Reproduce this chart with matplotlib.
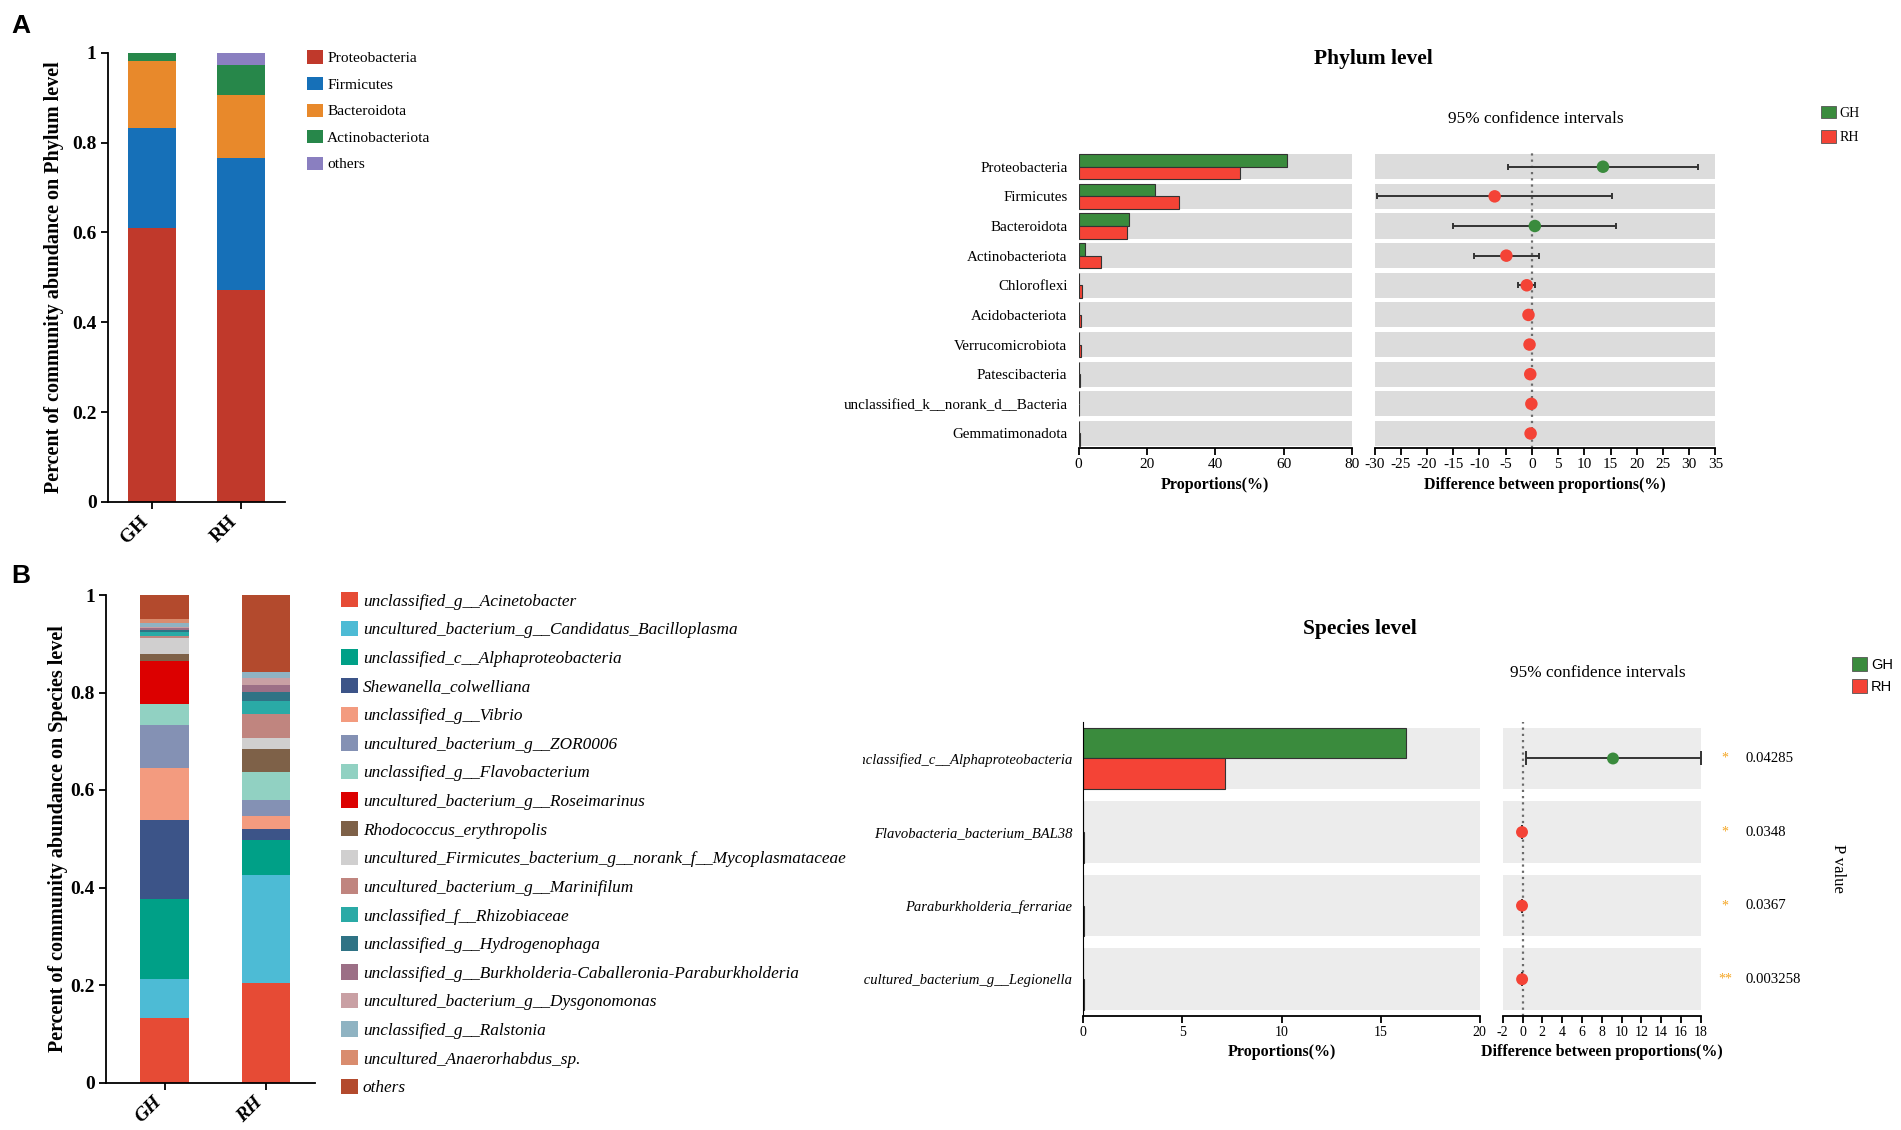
import matplotlib
matplotlib.use("Agg")
import matplotlib.pyplot as plt
import numpy as np
from matplotlib.patches import Patch
from matplotlib.transforms import Bbox, TransformedBbox

W, H = 1901, 1130
plt.rcParams["font.family"] = ["Liberation Serif", "DejaVu Serif"]
plt.rcParams["axes.unicode_minus"] = False

############# data ##########################################################

groups = ["GH", "RH"]

# community barplot, phylum level
phyla = ["Proteobacteria", "Firmicutes", "Bacteroidota", "Actinobacteriota", "others"]
phylum_gh = [0.609, 0.224, 0.148, 0.019, 0.0]
phylum_rh = [0.472, 0.294, 0.141, 0.065, 0.028]
phylum_colors = ["#c0392b", "#1670b8", "#e8892b", "#27874a", "#8a7fc0"]

# community barplot, species level
species = [
    "unclassified_g__Acinetobacter",
    "uncultured_bacterium_g__Candidatus_Bacilloplasma",
    "unclassified_c__Alphaproteobacteria",
    "Shewanella_colwelliana",
    "unclassified_g__Vibrio",
    "uncultured_bacterium_g__ZOR0006",
    "unclassified_g__Flavobacterium",
    "uncultured_bacterium_g__Roseimarinus",
    "Rhodococcus_erythropolis",
    "uncultured_Firmicutes_bacterium_g__norank_f__Mycoplasmataceae",
    "uncultured_bacterium_g__Marinifilum",
    "unclassified_f__Rhizobiaceae",
    "unclassified_g__Hydrogenophaga",
    "unclassified_g__Burkholderia-Caballeronia-Paraburkholderia",
    "uncultured_bacterium_g__Dysgonomonas",
    "unclassified_g__Ralstonia",
    "uncultured_Anaerorhabdus_sp.",
    "others",
]
species_gh = [0.133, 0.079, 0.164, 0.162, 0.108, 0.087, 0.043, 0.088, 0.014,
              0.034, 0.003, 0.010, 0.003, 0.004, 0.003, 0.008, 0.008, 0.049]
species_rh = [0.205, 0.220, 0.072, 0.022, 0.027, 0.034, 0.057, 0.0, 0.047,
              0.022, 0.049, 0.028, 0.017, 0.016, 0.014, 0.012, 0.0, 0.159]
species_colors = ["#e64b35", "#4dbbd5", "#00a087", "#3c5488", "#f39b7f",
                  "#8491b4", "#91d1c2", "#dc0000", "#7e6148", "#d0cfcf",
                  "#c0857f", "#2aaaa6", "#2f7385", "#9c6f86", "#c9a0a4",
                  "#8fb3c2", "#d98c6e", "#b34a2d"]

# STAMP test, phylum level
phylum_test = ["Proteobacteria", "Firmicutes", "Bacteroidota", "Actinobacteriota",
               "Chloroflexi", "Acidobacteriota", "Verrucomicrobiota",
               "Patescibacteria", "unclassified_k__norank_d__Bacteria",
               "Gemmatimonadota"]
phylum_prop_gh = [60.9, 22.5, 14.8, 1.8, 0.15, 0.1, 0.15, 0.1, 0.1, 0.05]
phylum_prop_rh = [47.3, 29.5, 14.3, 6.7, 1.1, 0.75, 0.6, 0.4, 0.2, 0.3]
phylum_diff = [13.56, -7.1, 0.56, -4.87, -0.98, -0.65, -0.45, -0.31, -0.1, -0.25]
phylum_ci_low = [-4.54, -29.46, -15.06, -11.04, -2.66, -0.9, -0.6, -0.4, -0.15, -0.35]
phylum_ci_high = [31.65, 15.23, 16.04, 1.36, 0.62, -0.4, -0.3, -0.2, -0.05, -0.15]

# STAMP test, species level
species_test = ["unclassified_c__Alphaproteobacteria", "Flavobacteria_bacterium_BAL38",
                "Paraburkholderia_ferrariae", "uncultured_bacterium_g__Legionella"]
species_prop_gh = [16.3, 0.0, 0.0, 0.0]
species_prop_rh = [7.15, 0.04, 0.03, 0.03]
species_diff = [9.14, -0.05, -0.05, -0.04]
species_ci_low = [0.36, -0.09, -0.09, -0.07]
species_ci_high = [18.0, -0.01, -0.01, -0.01]
p_values = ["0.04285", "0.0348", "0.0367", "0.003258"]
p_stars = ["*", "*", "*", "**"]

GREEN = "#3a8b3d"
RED = "#f44336"

fig = plt.figure(figsize=(W / 100, H / 100), dpi=100)


def add_axes_px(left, top, right, bottom):
    return fig.add_axes([left / W, 1 - bottom / H, (right - left) / W, (bottom - top) / H])


def fig_xy(x, y):
    return x / W, 1 - y / H


############# stacked community barplots ####################################

def community_plot(ax, gh, rh, colors, labels, width, xlim, ylabel, italic, labelpad):
    x = np.arange(len(groups))
    vals = np.array([gh, rh])
    bottoms = np.zeros(len(groups))
    for i, (lab, col) in enumerate(zip(labels, colors)):
        ax.bar(x, vals[:, i], width, bottom=bottoms, color=col, label=lab, linewidth=0)
        bottoms += vals[:, i]
    ax.set_xlim(*xlim)
    ax.set_ylim(0, 1)
    ax.spines[["top", "right"]].set_visible(False)
    ax.spines[["left", "bottom"]].set_linewidth(1.3)
    ax.set_yticks([0, 0.2, 0.4, 0.6, 0.8, 1.0])
    ax.set_yticklabels(["0", "0.2", "0.4", "0.6", "0.8", "1"], fontsize=14, fontweight="bold")
    ax.set_xticks(x)
    ax.set_xticklabels(groups, rotation=45, ha="right", fontsize=14, fontweight="bold",
                       fontstyle="italic" if italic else "normal")
    ax.tick_params(direction="out", length=5, width=1.3, pad=3)
    ax.set_ylabel(ylabel, fontsize=14.5, fontweight="bold", labelpad=labelpad)


axA1 = add_axes_px(107.7, 52.9, 285, 501.8)
community_plot(axA1, phylum_gh, phylum_rh, phylum_colors, phyla, 0.54, (-0.494, 1.498),
               "Percent of community abundance on Phylum level", False, 5.7)
axA1.legend(loc="upper left", bbox_to_anchor=fig_xy(306.7, 50.5), bbox_transform=fig.transFigure,
            frameon=False, fontsize=11.1, borderpad=0, borderaxespad=0, handlelength=1.05,
            handleheight=0.95, handletextpad=0.28, labelspacing=0.75)

axB1 = add_axes_px(105.9, 595, 315.4, 1082.5)
community_plot(axB1, species_gh, species_rh, species_colors, species, 0.48, (-0.579, 1.487),
               "Percent of community abundance on Species level", True, 2)
axB1.legend(loc="upper left", bbox_to_anchor=fig_xy(341.2, 592), bbox_transform=fig.transFigure,
            frameon=False, prop={"size": 12.4, "style": "italic"}, borderpad=0, borderaxespad=0,
            handlelength=0.95, handleheight=1.0, handletextpad=0.3, labelspacing=0.64)


############# STAMP panels ##################################################

def proportion_plot(ax, names, gh, rh, xmax, ticks, band_h, band_color, italic, left_spine):
    rows = np.arange(len(names))
    ax.barh(rows, xmax, band_h, color=band_color, linewidth=0, zorder=0)
    ax.barh(rows - band_h / 4, gh, band_h / 2, color=GREEN, edgecolor="#333333", linewidth=0.8)
    ax.barh(rows + band_h / 4, rh, band_h / 2, color=RED, edgecolor="#333333", linewidth=0.8)
    ax.set_xlim(0, xmax)
    ax.set_ylim(len(names) - 0.5, -0.5)
    ax.set_xticks(ticks)
    ax.set_yticks(rows)
    ax.set_yticklabels(names, fontsize=10.8 if not italic else 10.5,
                       fontstyle="italic" if italic else "normal")
    ax.spines[["top", "right"]].set_visible(False)
    ax.spines["left"].set_visible(left_spine)
    ax.spines["bottom"].set_linewidth(1.3)
    ax.tick_params(axis="x", direction="out", length=5, width=1.3, labelsize=11, pad=2)
    ax.tick_params(axis="y", length=0, pad=8)
    ax.set_xlabel("Proportions(%)", fontsize=11.5, fontweight="bold", labelpad=4)


def difference_plot(ax, diff, low, high, xlim, ticks, band_h, band_color, capsize, msize):
    rows = np.arange(len(diff))
    diff = np.array(diff)
    ax.barh(rows, xlim[1] - xlim[0], band_h, left=xlim[0], color=band_color, linewidth=0, zorder=0)
    ax.axvline(0, color="#6b6b6b", linestyle=(0, (1, 1.8)), linewidth=1.6, zorder=1)
    ax.errorbar(diff, rows, xerr=[diff - np.array(low), np.array(high) - diff], fmt="none",
                ecolor="#333333", elinewidth=1.4, capsize=capsize, capthick=1.4, zorder=2)
    ax.scatter(diff, rows, s=msize ** 2, color=[GREEN if d > 0 else RED for d in diff],
               zorder=3, linewidth=0)
    ax.set_xlim(*xlim)
    ax.set_ylim(len(diff) - 0.5, -0.5)
    ax.set_xticks(ticks)
    ax.set_yticks([])
    ax.spines[["top", "right", "left"]].set_visible(False)
    ax.spines["bottom"].set_linewidth(1.3)
    ax.tick_params(axis="x", direction="out", length=5, width=1.3, labelsize=11, pad=2)
    ax.set_xlabel("Difference between proportions(%)", fontsize=11.5, fontweight="bold", labelpad=4)


axA2 = add_axes_px(1078.6, 151.9, 1351.8, 448.3)
proportion_plot(axA2, phylum_test, phylum_prop_gh, phylum_prop_rh, 80, [0, 20, 40, 60, 80],
                0.845, "#dcdcdc", False, False)
axA3 = add_axes_px(1374.6, 151.9, 1715.4, 448.3)
difference_plot(axA3, phylum_diff, phylum_ci_low, phylum_ci_high, (-30, 35),
                np.arange(-30, 36, 5), 0.845, "#dcdcdc", 2.5, 9)

axB2 = add_axes_px(1083.3, 721.7, 1479.7, 1016)
proportion_plot(axB2, species_test, species_prop_gh, species_prop_rh, 20, [0, 5, 10, 15, 20],
                0.836, "#ececec", True, True)
axB2.tick_params(axis="x", labelsize=10)
clip = TransformedBbox(Bbox([[863 / W, 0], [1, 1]]), fig.transFigure)
for lbl in axB2.get_yticklabels():
    lbl.set_clip_box(clip)
    lbl.set_clip_on(True)

axB3 = add_axes_px(1502.7, 721.7, 1700.7, 1016)
difference_plot(axB3, species_diff, species_ci_low, species_ci_high, (-2, 18),
                np.arange(-2, 19, 2), 0.836, "#ececec", 5, 8.6)
axB3.tick_params(axis="x", labelsize=10)

# p values
for i, (star, p) in enumerate(zip(p_stars, p_values)):
    axB3.text(1.123, i, star, transform=axB3.get_yaxis_transform(), color="#f5a623",
              fontsize=10, ha="center", va="center")
    axB3.text(1.224, i, p, transform=axB3.get_yaxis_transform(), fontsize=10.6,
              ha="left", va="center")
fig.text(*fig_xy(1838.3, 868.3), "P value", fontsize=12, rotation=-90, ha="center", va="center")

# titles
fig.text(*fig_xy(1373.7, 59), "Phylum level", fontsize=15.5, fontweight="bold", ha="center", va="center")
fig.text(*fig_xy(1359.8, 629), "Species level", fontsize=15.5, fontweight="bold", ha="center", va="center")
fig.text(*fig_xy(1536, 119.3), "95% confidence intervals", fontsize=12.4, ha="center", va="center")
fig.text(*fig_xy(1598.3, 673.3), "95% confidence intervals", fontsize=12.4, ha="center", va="center")

# group legends
grp_handles = [Patch(facecolor=GREEN, edgecolor="#555555", linewidth=0.6),
               Patch(facecolor=RED, edgecolor="#555555", linewidth=0.6)]
fig.legend(grp_handles, groups, loc="upper left", bbox_to_anchor=fig_xy(1821, 105.5),
           frameon=False, fontsize=10, borderpad=0, borderaxespad=0, handlelength=1.05,
           handleheight=1.05, handletextpad=0.28, labelspacing=0.75)
fig.legend(grp_handles, groups, loc="upper left", bbox_to_anchor=fig_xy(1851.7, 657.5),
           frameon=False, prop={"family": "Liberation Sans", "size": 10.5}, borderpad=0,
           borderaxespad=0, handlelength=1.03, handleheight=1.03, handletextpad=0.28,
           labelspacing=0.5)

# panel letters
fig.text(*fig_xy(20.7, 26), "A", fontsize=19, fontweight="bold", family="Liberation Sans",
         ha="center", va="center")
fig.text(*fig_xy(20.6, 576), "B", fontsize=19, fontweight="bold", family="Liberation Sans",
         ha="center", va="center")

fig.savefig("out.png", dpi=100)
